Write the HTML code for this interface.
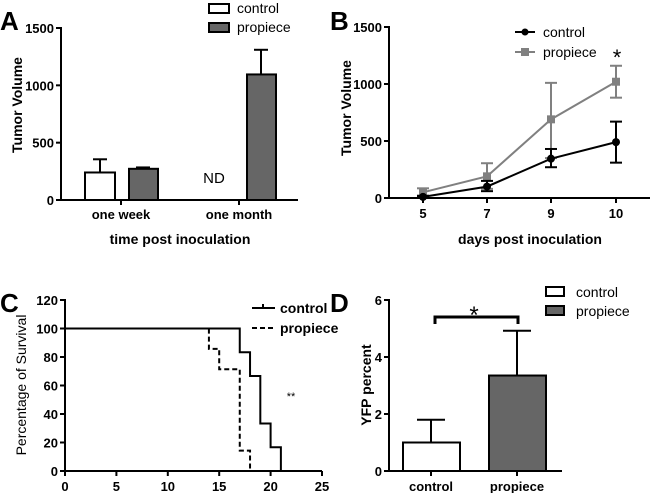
<!DOCTYPE html>
<html><head><meta charset="utf-8"><style>
html,body{margin:0;padding:0;background:#fff}
svg{display:block;font-family:"Liberation Sans",Arial,sans-serif}
</style></head><body>
<svg id="fig" width="650" height="493" viewBox="0 0 650 493"></svg>
<script>
// Panel A data
const aCategories = ["one week","one month"];
const aControl = [240, 0];
const aControlErr = [115, 0];
const aPropiece = [272, 1095];
const aPropieceErr = [12, 215];
const aTicks = [0,500,1000,1500];
// Panel B data
const bDays = ["5","7","9","10"];
const bControl = [10, 100, 345, 490];
const bControlLo = [5, 60, 270, 310];
const bControlHi = [20, 150, 430, 670];
const bPropiece = [50, 190, 690, 1020];
const bPropieceLo = [15, 80, 350, 880];
const bPropieceHi = [85, 305, 1010, 1160];
const bTicks = [0,500,1000,1500];
// Panel C data
const cControlT = [0,17,18,19,20,21];
const cControlS = [100,83.3,66.7,33.3,16.7,0];
const cPropT = [0,14,15,17,18];
const cPropS = [100,85.7,71.4,14.3,0];
const cXTicks = [0,5,10,15,20,25];
const cYTicks = [0,20,40,60,80,100,120];
// Panel D data
const dCategories = ["control","propiece"];
const dValues = [1.0, 3.35];
const dErr = [0.8, 1.57];
const dTicks = [0,2,4,6];

const NS="http://www.w3.org/2000/svg";
const svg=document.getElementById('fig');
function el(tag,attrs,parent,text){const e=document.createElementNS(NS,tag);for(const k in attrs)e.setAttribute(k,attrs[k]);if(text!==undefined)e.textContent=text;(parent||svg).appendChild(e);return e;}
function g(name){const e=el('g',{});return e;}
const ax={stroke:'#000','stroke-width':2,fill:'none'};
const tk={'font-size':'13','font-weight':'bold','text-anchor':'end'};

// ---------- Panel A ----------
{
const G=g('panel-a');
const y=v=>200-(v/1500)*172;
const xc=[121,239];
el('text',{x:0,y:30,'font-size':'26','font-weight':'bold'},G,'A');
el('line',{x1:61,y1:27,x2:61,y2:201,...ax},G);
el('line',{x1:60,y1:200,x2:298,y2:200,...ax},G);
aTicks.forEach(t=>{el('line',{x1:56,y1:y(t),x2:61,y2:y(t),...ax},G);el('text',{x:54,y:y(t)+5,...tk},G,t);});
aCategories.forEach((c,i)=>{el('line',{x1:xc[i],y1:200,x2:xc[i],y2:205,...ax},G);el('text',{x:xc[i],y:219,'font-size':'13','font-weight':'bold','text-anchor':'middle'},G,c);});
el('text',{x:180,y:244,'font-size':'14','font-weight':'bold','text-anchor':'middle'},G,'time post inoculation');
el('text',{x:0,y:0,'font-size':'14','font-weight':'bold','text-anchor':'middle',transform:'translate(22,105) rotate(-90)'},G,'Tumor  Volume');
aCategories.forEach((c,i)=>{
 if(aControl[i]>0){
  el('line',{x1:xc[i]-21,y1:y(aControl[i]+aControlErr[i]),x2:xc[i]-21,y2:y(aControl[i]),...ax},G);
  el('line',{x1:xc[i]-28,y1:y(aControl[i]+aControlErr[i]),x2:xc[i]-14,y2:y(aControl[i]+aControlErr[i]),...ax},G);
  const r=el('rect',{x:xc[i]-36,y:y(aControl[i]),width:30,height:200-y(aControl[i]),fill:'#fff',stroke:'#000','stroke-width':2},G);
  
 }
 el('line',{x1:xc[i]+22,y1:y(aPropiece[i]+aPropieceErr[i]),x2:xc[i]+22,y2:y(aPropiece[i]),...ax},G);
 el('line',{x1:xc[i]+15,y1:y(aPropiece[i]+aPropieceErr[i]),x2:xc[i]+29,y2:y(aPropiece[i]+aPropieceErr[i]),...ax},G);
 const r=el('rect',{x:xc[i]+8,y:y(aPropiece[i]),width:29,height:200-y(aPropiece[i]),fill:'#666',stroke:'#000','stroke-width':2},G);
 
});
el('text',{x:214,y:183,'font-size':'15','text-anchor':'middle'},G,'ND');
el('rect',{x:209,y:4,width:20,height:9,fill:'#fff',stroke:'#000','stroke-width':2},G);
el('text',{x:237,y:13,'font-size':'14'},G,'control');
el('rect',{x:209,y:23,width:20,height:9,fill:'#666',stroke:'#000','stroke-width':2},G);
el('text',{x:237,y:32,'font-size':'14'},G,'propiece');
}

// ---------- Panel B ----------
{
const G=g('panel-b');
const y=v=>198-(v/1500)*171;
const xs=[423,487,551,616];
el('text',{x:330,y:30,'font-size':'26','font-weight':'bold'},G,'B');
el('line',{x1:389,y1:26,x2:389,y2:199,...ax},G);
el('line',{x1:388,y1:198,x2:650,y2:198,...ax},G);
bTicks.forEach(t=>{el('line',{x1:384,y1:y(t),x2:389,y2:y(t),...ax},G);el('text',{x:382,y:y(t)+5,...tk},G,t);});
bDays.forEach((d,i)=>{el('line',{x1:xs[i],y1:198,x2:xs[i],y2:203,...ax},G);el('text',{x:xs[i],y:218,'font-size':'13','font-weight':'bold','text-anchor':'middle'},G,d);});
el('text',{x:530,y:244,'font-size':'14','font-weight':'bold','text-anchor':'middle'},G,'days post inoculation');
el('text',{x:0,y:0,'font-size':'14','font-weight':'bold','text-anchor':'middle',transform:'translate(351,108) rotate(-90)'},G,'Tumor  Volume');
function series(vals,lo,hi,col,marker,name){
 el('polyline',{points:vals.map((v,i)=>xs[i]+','+y(v)).join(' '),fill:'none',stroke:col,'stroke-width':2},G);
 vals.forEach((v,i)=>{
  el('line',{x1:xs[i],y1:y(lo[i]),x2:xs[i],y2:y(hi[i]),stroke:col,'stroke-width':2},G);
  el('line',{x1:xs[i]-6,y1:y(lo[i]),x2:xs[i]+6,y2:y(lo[i]),stroke:col,'stroke-width':2},G);
  el('line',{x1:xs[i]-6,y1:y(hi[i]),x2:xs[i]+6,y2:y(hi[i]),stroke:col,'stroke-width':2},G);
  const m=marker==='c'?el('circle',{cx:xs[i],cy:y(v),r:4,fill:col},G):el('rect',{x:xs[i]-4,y:y(v)-4,width:8,height:8,fill:col},G);
  
 });
}
series(bPropiece,bPropieceLo,bPropieceHi,'#808080','s','propiece');
series(bControl,bControlLo,bControlHi,'#000','c','control');
el('line',{x1:515,y1:32,x2:535,y2:32,stroke:'#000','stroke-width':2},G);
el('circle',{cx:525,cy:32,r:3.5,fill:'#000'},G);
el('text',{x:543,y:37,'font-size':'14'},G,'control');
el('line',{x1:515,y1:52,x2:535,y2:52,stroke:'#808080','stroke-width':2},G);
el('rect',{x:521,y:48,width:8,height:8,fill:'#808080'},G);
el('text',{x:543,y:57,'font-size':'14'},G,'propiece');
el('text',{x:617,y:65,'font-size':'22','text-anchor':'middle'},G,'*');
}

// ---------- Panel C ----------
{
const G=g('panel-c');
const x=t=>65+(t/25)*257;
const y=v=>471-(v/120)*171;
el('text',{x:0,y:312,'font-size':'26','font-weight':'bold'},G,'C');
el('line',{x1:65,y1:299,x2:65,y2:472,...ax},G);
el('line',{x1:64,y1:471,x2:322,y2:471,...ax},G);
cYTicks.forEach(t=>{el('line',{x1:60,y1:y(t),x2:65,y2:y(t),...ax},G);el('text',{x:58,y:y(t)+5,...tk},G,t);});
cXTicks.forEach(t=>{el('line',{x1:x(t),y1:471,x2:x(t),y2:476,...ax},G);el('text',{x:x(t),y:491,'font-size':'13','font-weight':'bold','text-anchor':'middle'},G,t);});
el('text',{x:0,y:0,'font-size':'14','text-anchor':'middle',transform:'translate(26,385) rotate(-90)'},G,'Percentage of Survival');
function steps(T,S){let p=[];for(let i=0;i<T.length;i++){if(i>0)p.push(x(T[i])+','+y(S[i-1]));p.push(x(T[i])+','+y(S[i]));}return p.join(' ');}
const c1=el('polyline',{points:steps(cControlT,cControlS),fill:'none',stroke:'#000','stroke-width':2},G);

const c2=el('polyline',{points:steps(cPropT,cPropS),fill:'none',stroke:'#000','stroke-width':2,'stroke-dasharray':'5,3'},G);

el('line',{x1:252,y1:308,x2:275,y2:308,stroke:'#000','stroke-width':2},G);
el('line',{x1:263,y1:304,x2:263,y2:308,stroke:'#000','stroke-width':2},G);
el('text',{x:280,y:313,'font-size':'14','font-weight':'bold'},G,'control');
el('line',{x1:252,y1:328,x2:275,y2:328,stroke:'#000','stroke-width':2,'stroke-dasharray':'5,3'},G);
el('text',{x:280,y:333,'font-size':'14','font-weight':'bold'},G,'propiece');
el('text',{x:291,y:400,'font-size':'11','text-anchor':'middle'},G,'**');
}

// ---------- Panel D ----------
{
const G=g('panel-d');
const y=v=>471-(v/6)*171;
const xc=[431,517];
el('text',{x:330,y:312,'font-size':'26','font-weight':'bold'},G,'D');
el('line',{x1:389,y1:299,x2:389,y2:472,...ax},G);
el('line',{x1:388,y1:471,x2:562,y2:471,...ax},G);
dTicks.forEach(t=>{el('line',{x1:384,y1:y(t),x2:389,y2:y(t),...ax},G);el('text',{x:382,y:y(t)+5,...tk},G,t);});
dCategories.forEach((c,i)=>{el('line',{x1:xc[i],y1:471,x2:xc[i],y2:476,...ax},G);el('text',{x:xc[i],y:491,'font-size':'13','font-weight':'bold','text-anchor':'middle'},G,c);});
el('text',{x:0,y:0,'font-size':'14','font-weight':'bold','text-anchor':'middle',transform:'translate(371,385) rotate(-90)'},G,'YFP percent');
const fills=['#fff','#666'];
dCategories.forEach((c,i)=>{
 const top=y(dValues[i]+dErr[i]);
 el('line',{x1:xc[i],y1:top,x2:xc[i],y2:y(dValues[i]),...ax},G);
 el('line',{x1:xc[i]-14,y1:top,x2:xc[i]+14,y2:top,...ax},G);
 const r=el('rect',{x:xc[i]-28,y:y(dValues[i]),width:57,height:471-y(dValues[i]),fill:fills[i],stroke:'#000','stroke-width':2},G);
 
});
el('polyline',{points:'435,324 435,317 518,317 518,324',fill:'none',stroke:'#000','stroke-width':3},G);
el('text',{x:474,y:323,'font-size':'24','text-anchor':'middle'},G,'*');
el('rect',{x:546,y:287,width:18,height:9,fill:'#fff',stroke:'#000','stroke-width':2},G);
el('text',{x:576,y:297,'font-size':'14'},G,'control');
el('rect',{x:546,y:306,width:18,height:9,fill:'#666',stroke:'#000','stroke-width':2},G);
el('text',{x:576,y:316,'font-size':'14'},G,'propiece');
}
</script>
</body></html>
